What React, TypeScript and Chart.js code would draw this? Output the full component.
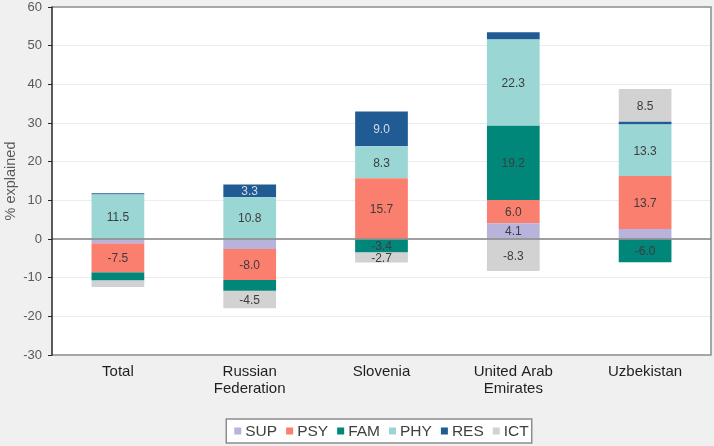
import React, { useEffect, useRef } from "react";
import { Chart, registerables } from "chart.js";

Chart.register(...registerables);

const categories: (string | string[])[] = [
  "Total",
  ["Russian", "Federation"],
  "Slovenia",
  ["United Arab", "Emirates"],
  "Uzbekistan",
];

const seriesNames = ["SUP", "PSY", "FAM", "PHY", "RES", "ICT"];
const seriesColors = ["#b7b3da", "#fa7f6e", "#00877a", "#9ad6d3", "#215b93", "#d2d2d2"];

const SUP = [-1.1, -2.6, 0.0, 4.1, 2.6];
const PSY = [-7.5, -8.0, 15.7, 6.0, 13.7];
const FAM = [-2.1, -2.8, -3.4, 19.2, -6.0];
const PHY = [11.5, 10.8, 8.3, 22.3, 13.3];
const RES = [0.3, 3.3, 9.0, 1.9, 0.7];
const ICT = [-1.7, -4.5, -2.7, -8.3, 8.5];

// which segments carry a value label
const SUP_LABEL = [false, false, false, true, false];
const PSY_LABEL = [true, true, true, true, true];
const FAM_LABEL = [false, false, true, true, true];
const PHY_LABEL = [true, true, true, true, true];
const RES_LABEL = [false, true, true, false, false];
const ICT_LABEL = [false, true, true, true, true];

const yTicks = [-30, -20, -10, 0, 10, 20, 30, 40, 50, 60];

const FONT = "'Liberation Sans', Arial, sans-serif";

export default function App() {
  const ref = useRef<HTMLCanvasElement | null>(null);

  useEffect(() => {
    if (!ref.current) return;
    const values = [SUP, PSY, FAM, PHY, RES, ICT];
    const flags = [SUP_LABEL, PSY_LABEL, FAM_LABEL, PHY_LABEL, RES_LABEL, ICT_LABEL];

    const bgPlugin = {
      id: "bg",
      beforeDraw(chart: any) {
        const { ctx, chartArea: a } = chart;
        ctx.save();
        ctx.fillStyle = "#f0f0f0";
        ctx.fillRect(0, 0, chart.width, chart.height);
        ctx.fillStyle = "#ffffff";
        ctx.fillRect(a.left, a.top, a.right - a.left, a.bottom - a.top);
        ctx.restore();
      },
      afterDraw(chart: any) {
        const { ctx, chartArea: a } = chart;
        ctx.save();
        // frame (top, right, bottom)
        ctx.strokeStyle = "#8c8c8c";
        ctx.lineWidth = 1.5;
        ctx.beginPath();
        ctx.moveTo(a.left, a.top);
        ctx.lineTo(a.right, a.top);
        ctx.lineTo(a.right, a.bottom);
        ctx.lineTo(a.left, a.bottom);
        ctx.stroke();
        // zero line
        const y0 = chart.scales.y.getPixelForValue(0);
        ctx.strokeStyle = "#7f7f7f";
        ctx.lineWidth = 1.5;
        ctx.beginPath();
        ctx.moveTo(a.left, y0);
        ctx.lineTo(a.right, y0);
        ctx.stroke();
        // left axis
        ctx.strokeStyle = "#262626";
        ctx.lineWidth = 1.5;
        ctx.beginPath();
        ctx.moveTo(a.left, a.top - 0.5);
        ctx.lineTo(a.left, a.bottom + 0.5);
        ctx.stroke();

        // legend
        ctx.font = `15.5px ${FONT}`;
        ctx.textBaseline = "middle";
        const sq = 7, gap = 4, between = 9;
        let total = 0;
        seriesNames.forEach((n, i) => {
          total += sq + gap + ctx.measureText(n).width + (i < seriesNames.length - 1 ? between : 0);
        });
        const cx = (a.left + a.right) / 2;
        let x = cx - total / 2;
        const ly = 431;
        ctx.fillStyle = "#ffffff";
        ctx.fillRect(x - 8, 419, total + 11, 24);
        ctx.strokeStyle = "#8c8c8c";
        ctx.lineWidth = 1.5;
        ctx.strokeRect(x - 8, 419, total + 11, 24);
        seriesNames.forEach((n, i) => {
          ctx.fillStyle = seriesColors[i];
          ctx.fillRect(x, ly - sq / 2, sq, sq);
          x += sq + gap;
          ctx.fillStyle = "#404040";
          ctx.textAlign = "left";
          ctx.fillText(n, x, ly + 1);
          x += ctx.measureText(n).width + between;
        });
        ctx.restore();
      },
      afterDatasetsDraw(chart: any) {
        const { ctx } = chart;
        ctx.save();
        ctx.font = `12px ${FONT}`;
        ctx.textAlign = "center";
        ctx.textBaseline = "middle";
        chart.data.datasets.forEach((ds: any, di: number) => {
          const meta = chart.getDatasetMeta(di);
          meta.data.forEach((bar: any, i: number) => {
            if (!flags[di][i]) return;
            const v = values[di][i];
            ctx.fillStyle = di === 4 ? "#d5dbe6" : "#3d3d3d";
            ctx.fillText(v.toFixed(1), bar.x, (bar.y + bar.base) / 2 + 1);
          });
        });
        ctx.restore();
      },
    };

    const chart = new Chart(ref.current, {
      type: "bar",
      data: {
        labels: categories,
        datasets: seriesNames.map((n, i) => ({
          label: n,
          data: values[i],
          backgroundColor: seriesColors[i],
          borderWidth: 0,
          barPercentage: 0.4,
          categoryPercentage: 1,
        })),
      },
      options: {
        animation: false,
        responsive: false,
        maintainAspectRatio: false,
        layout: { padding: { left: 0, right: 3, top: 7, bottom: 40 } },
        plugins: {
          legend: { display: false },
          tooltip: { enabled: false },
        },
        scales: {
          x: {
            stacked: true,
            grid: { display: false, drawTicks: false },
            border: { display: false },
            ticks: {
              font: { family: FONT, size: 15, lineHeight: 1.1 },
              color: "#1f1f1f",
              padding: 9,
              maxRotation: 0,
              autoSkip: false,
            },
          },
          y: {
            stacked: true,
            min: -30,
            max: 60,
            afterBuildTicks(scale: any) {
              scale.ticks = yTicks.map((v) => ({ value: v }));
            },
            grid: {
              color: (c: any) => (c.tick && (c.tick.value === 0 || c.tick.value === 60 || c.tick.value === -30) ? "rgba(0,0,0,0)" : "#ececec"),
              lineWidth: 1,
              drawTicks: true,
              tickLength: 4,
              tickColor: "#262626",
            },
            border: { display: false },
            ticks: {
              font: { family: FONT, size: 13 },
              color: "#595959",
              padding: 6,
            },
            title: {
              display: true,
              text: "% explained",
              font: { family: FONT, size: 14.5 },
              color: "#595959",
              padding: { top: 2, bottom: 0 },
            },
            afterFit(scale: any) {
              scale.width = 52;
              scale.paddingTop = 0;
              scale.paddingBottom = 0;
            },
          },
        },
      },
      plugins: [bgPlugin],
    });
    return () => chart.destroy();
  }, []);

  return (
    <div style={{ position: "fixed", left: 0, top: 0, width: 714, height: 446 }}>
      <canvas ref={ref} width={714} height={446} style={{ width: 714, height: 446, display: "block" }} />
    </div>
  );
}
